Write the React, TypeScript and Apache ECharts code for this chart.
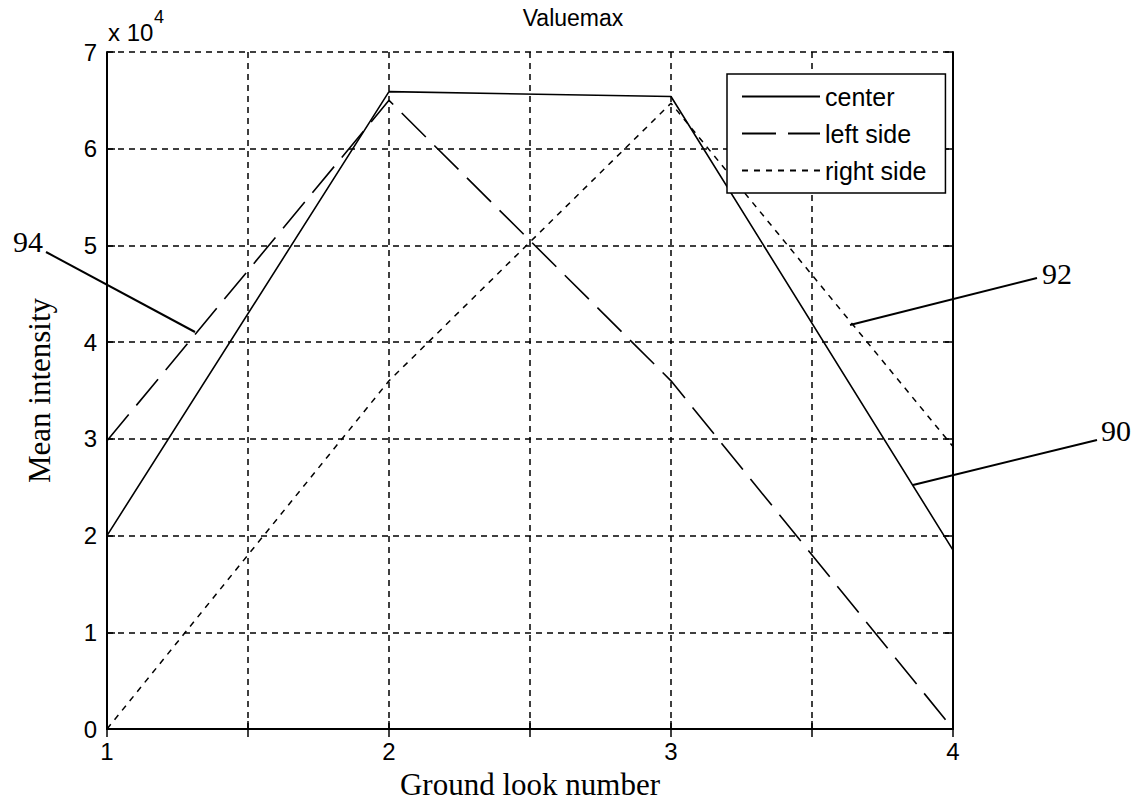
import React, { useEffect, useRef } from "react";
import * as echarts from "echarts";

// Ground look number (x) and mean intensity values (in units of 10^4)
const lookNumbers = [1, 2, 3, 4];
const centerValues = [2.0, 6.59, 6.54, 1.85];
const leftSideValues = [2.98, 6.5, 3.6, 0];
const rightSideValues = [0, 3.6, 6.47, 2.92];
const seriesNames = ["center", "left side", "right side"];
const yTickLabels = ["0", "1", "2", "3", "4", "5", "6", "7"];
const xTickLabels = ["1", "2", "3", "4"];

const SANS = "'Liberation Sans', Arial, Helvetica, sans-serif";
const SERIF = "'Liberation Serif', 'Times New Roman', serif";

export default function App() {
  const ref = useRef<HTMLDivElement>(null);

  useEffect(() => {
    if (!ref.current) return;
    const chart = echarts.init(ref.current, null, { renderer: "svg" });

    const toPairs = (vals: number[]) => lookNumbers.map((x, i) => [x, vals[i]]);

    const gridLine = { show: true, lineStyle: { color: "#000", width: 1.5, type: [6, 5] } };
    const axisLine = { show: true, lineStyle: { color: "#000", width: 2 } };
    const tick = { show: true, inside: true, length: 8, lineStyle: { color: "#000", width: 1.5 } };

    chart.setOption({
      animation: false,
      backgroundColor: "#fff",
      title: {
        text: "Valuemax",
        left: 568,
        top: 1,
        textAlign: "center",
        textStyle: { fontFamily: SANS, fontSize: 23, fontWeight: "normal", color: "#000" },
      },
      grid: { left: 107, top: 52, right: 193, bottom: 76, containLabel: false },
      legend: {
        orient: "vertical",
        left: 727,
        top: 74,
        backgroundColor: "#fff",
        borderColor: "#000",
        borderWidth: 1.5,
        borderRadius: 0,
        padding: [10, 19, 10, 14],
        itemWidth: 78,
        itemHeight: 14,
        itemGap: 12,
        itemStyle: { opacity: 0 },
        textStyle: { fontFamily: SANS, fontSize: 25, color: "#000", lineHeight: 24 },
        data: seriesNames,
      },
      xAxis: [
        {
          type: "value",
          position: "bottom",
          min: 1,
          max: 4,
          interval: 0.5,
          name: "Ground look number",
          nameLocation: "middle",
          nameGap: 40,
          nameTextStyle: { fontFamily: SERIF, fontSize: 31, color: "#000" },
          axisLine,
          axisTick: tick,
          splitLine: gridLine,
          axisLabel: {
            margin: 10,
            fontFamily: SANS,
            fontSize: 24,
            color: "#000",
            formatter: (v: number) => {
              const i = lookNumbers.indexOf(v);
              return i >= 0 ? xTickLabels[i] : "";
            },
          },
        },
        {
          type: "value",
          position: "top",
          min: 1,
          max: 4,
          interval: 0.5,
          axisLine,
          axisTick: tick,
          splitLine: { show: false },
          axisLabel: { show: false },
        },
      ],
      yAxis: [
        {
          type: "value",
          position: "left",
          min: 0,
          max: 7,
          interval: 1,
          name: "Mean intensity",
          nameLocation: "middle",
          nameGap: 52,
          nameRotate: 90,
          nameTextStyle: { fontFamily: SERIF, fontSize: 31, color: "#000" },
          axisLine,
          axisTick: tick,
          splitLine: gridLine,
          axisLabel: {
            margin: 10,
            fontFamily: SANS,
            fontSize: 24,
            color: "#000",
            formatter: (v: number) => yTickLabels[Math.round(v)] ?? "",
          },
        },
        {
          type: "value",
          position: "right",
          min: 0,
          max: 7,
          interval: 1,
          axisLine,
          axisTick: tick,
          splitLine: { show: false },
          axisLabel: { show: false },
        },
      ],
      series: [
        {
          name: seriesNames[0],
          type: "line",
          data: toPairs(centerValues),
          symbol: "none",
          lineStyle: { color: "#000", width: 1.6, type: "solid" },
          itemStyle: { color: "#000" },
          z: 3,
        },
        {
          name: seriesNames[1],
          type: "line",
          data: toPairs(leftSideValues),
          symbol: "none",
          lineStyle: { color: "#000", width: 1.6, type: [34, 12] },
          itemStyle: { color: "#000" },
          z: 3,
        },
        {
          name: seriesNames[2],
          type: "line",
          data: toPairs(rightSideValues),
          symbol: "none",
          lineStyle: { color: "#000", width: 1.5, type: [6, 6] },
          itemStyle: { color: "#000" },
          z: 3,
        },
      ],
      graphic: [
        {
          type: "text",
          left: 108,
          top: 20,
          style: {
            text: "x 10",
            font: `24px ${SANS}`,
            fill: "#000",
          },
        },
        {
          type: "text",
          left: 154,
          top: 8,
          style: {
            text: "4",
            font: `18px ${SANS}`,
            fill: "#000",
          },
        },
        // annotation 94
        {
          type: "line",
          shape: { x1: 46, y1: 252, x2: 195, y2: 332 },
          style: { stroke: "#000", lineWidth: 2 },
        },
        {
          type: "text",
          x: 13,
          y: 226,
          style: { text: "94", font: `30px ${SERIF}`, fill: "#000" },
        },
        // annotation 92
        {
          type: "line",
          shape: { x1: 1037, y1: 278, x2: 850, y2: 325 },
          style: { stroke: "#000", lineWidth: 2 },
        },
        {
          type: "text",
          x: 1042,
          y: 258,
          style: { text: "92", font: `30px ${SERIF}`, fill: "#000" },
        },
        // annotation 90
        {
          type: "line",
          shape: { x1: 1097, y1: 440, x2: 913, y2: 485 },
          style: { stroke: "#000", lineWidth: 2 },
        },
        {
          type: "text",
          x: 1101,
          y: 415,
          style: { text: "90", font: `30px ${SERIF}`, fill: "#000" },
        },
      ],
    });

    return () => chart.dispose();
  }, []);

  return <div ref={ref} style={{ width: 1146, height: 805, margin: -8 }} />;
}
